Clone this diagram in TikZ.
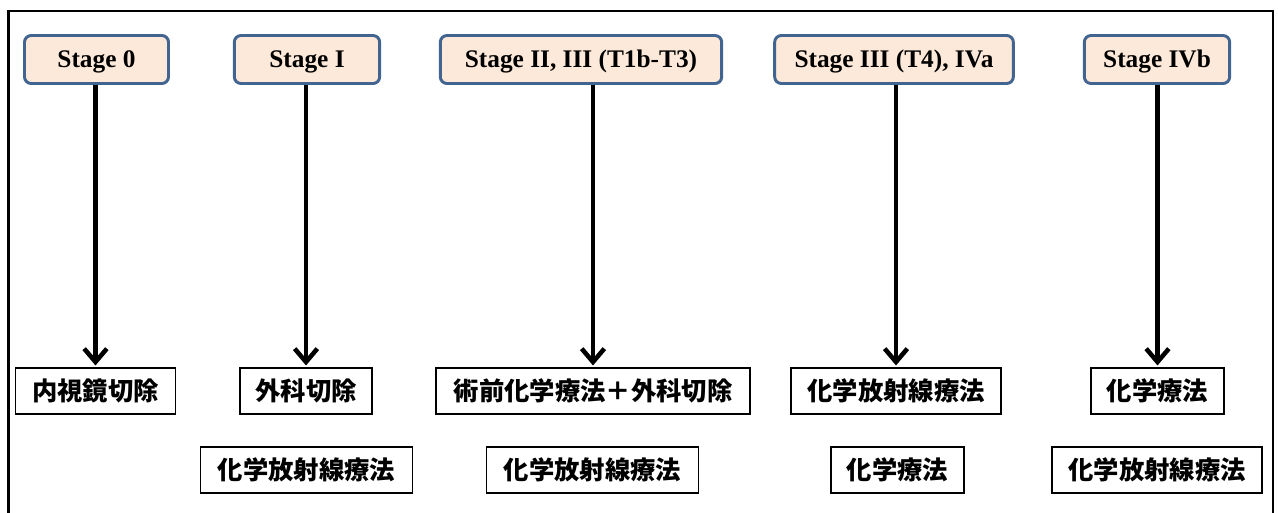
\documentclass[tikz,border=0pt]{standalone}
\usepackage{fontspec}
\setmainfont{Liberation Serif}
\newfontfamily\cjk{Noto Sans CJK JP}
\usetikzlibrary{arrows.meta}
\definecolor{stagefill}{RGB}{253,233,217}
\definecolor{stageline}{RGB}{65,100,145}
\tikzset{
    stagebox/.style={draw=stageline,fill=stagefill,line width=2.2pt,rounded corners=5pt,
      minimum height=36pt,inner sep=0pt,text height=12.5pt,text depth=0pt,
      font=\bfseries\fontsize{19}{20}\selectfont},
    treatbox/.style={draw=black,line width=1.3pt,minimum height=35pt,inner sep=0pt,
      font=\cjk\bfseries\fontsize{19}{21}\selectfont},
    flow/.style={line width=3.4pt,-{Straight Barb[length=10pt,width=17pt]}},
  }
\begin{document}
\begin{tikzpicture}[x=0.75pt,y=-0.75pt]
				  %frame (bottom edge lies outside the picture)
				  \useasboundingbox (0,0) rectangle (1278,512);
				  \clip (0,0) rectangle (1278,512);
				  \draw[line width=2pt] (8.5,540) -- (8.5,11) -- (1273,11) -- (1273,540);

				  %stages
				  \node[stagebox,minimum width=108pt](s0) at (96.5,59.5) {Stage 0};
				  \node[stagebox,minimum width=109pt](s1) at (307,59.5) {Stage I};
				  \node[stagebox,minimum width=211pt](s2) at (581,59.5) {Stage II, III (T1b-T3)};
				  \node[stagebox,minimum width=179pt](s3) at (894,59.5) {Stage III (T4), IVa};
				  \node[stagebox,minimum width=109pt](s4) at (1157,59.5) {Stage IVb};

				  %first choice
				  \node[treatbox,minimum width=120pt](t0) at (95.5,391) {内視鏡切除};
				  \node[treatbox,minimum width=99.5pt](t1) at (306,391) {外科切除};
				  \node[treatbox,minimum width=236pt](t2) at (593,391) {術前化学療法＋外科切除};
				  \node[treatbox,minimum width=157pt](t3) at (896,391) {化学放射線療法};
				  \node[treatbox,minimum width=100pt](t4) at (1157.5,391) {化学療法};

				  %second choice
				  \node[treatbox,minimum width=159pt](u1) at (306.5,470) {化学放射線療法};
				  \node[treatbox,minimum width=159pt](u2) at (592.5,470) {化学放射線療法};
				  \node[treatbox,minimum width=100pt](u3) at (897.5,470) {化学療法};
				  \node[treatbox,minimum width=158pt](u4) at (1157,470) {化学放射線療法};

				  \foreach \i in {0,...,4}
				    \draw[flow] (t\i.north |- s\i.south) -- ([yshift=1pt]t\i.north);
\end{tikzpicture}
\end{document}
